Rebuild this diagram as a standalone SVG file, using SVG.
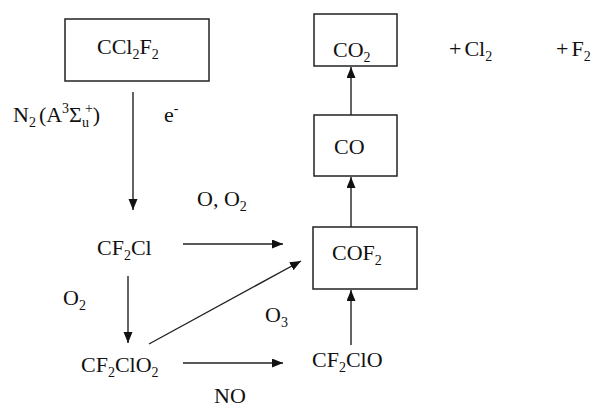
<svg xmlns="http://www.w3.org/2000/svg" width="603" height="408" viewBox="0 0 603 408">
<defs>
<style>
text{font-family:"Liberation Serif","Times New Roman",serif;font-size:22px;fill:#111}
.s{font-size:14px}
.box{fill:#fff;stroke:#222;stroke-width:1.5}
.ln{stroke:#222;stroke-width:1.4;fill:none;marker-end:url(#ah)}
</style>
<marker id="ah" markerUnits="userSpaceOnUse" markerWidth="12" markerHeight="10" refX="11" refY="4.5" orient="auto">
<path d="M0,0 L11,4.5 L0,9 z" fill="#111"/>
</marker>
</defs>
<rect width="603" height="408" fill="#fff"/>
<g id="connectors">
<path class="ln" d="M133,92 L133,210"/>
<path class="ln" d="M183,244 L283,244"/>
<path class="ln" d="M128,276 L128,343"/>
<path class="ln" d="M149,344 L301,261"/>
<path class="ln" d="M183,363 L283,363"/>
<path class="ln" d="M351,345 L351,290"/>
<path class="ln" d="M351,227 L351,177"/>
<path class="ln" d="M351,115 L351,67"/>
</g>
<g id="labels">
<text x="13" y="122">N<tspan class="s" dy="5">2</tspan><tspan dy="-5" dx="3">(A</tspan><tspan class="s" dy="-9">3</tspan><tspan dy="9">Σ</tspan><tspan class="s" dy="5">u</tspan><tspan class="s" dy="-14" dx="-4">+</tspan><tspan dy="9">)</tspan></text>
<text x="164" y="122">e<tspan class="s" dy="-9">-</tspan></text>
<text x="197" y="206">O, O<tspan class="s" dy="5">2</tspan></text>
<text x="63" y="305">O<tspan class="s" dy="5">2</tspan></text>
<text x="265" y="322">O<tspan class="s" dy="5">3</tspan></text>
<text x="214" y="403">NO</text>
<text x="449" y="56">+<tspan dx="3">Cl</tspan><tspan class="s" dy="5">2</tspan></text>
<text x="556" y="56">+<tspan dx="3">F</tspan><tspan class="s" dy="5">2</tspan></text>
</g>
<g id="CCl2F2">
<rect class="box" x="65" y="19" width="144" height="62"/>
<text x="97" y="54">CCl<tspan class="s" dy="5">2</tspan><tspan dy="-5">F</tspan><tspan class="s" dy="5">2</tspan></text>
</g>
<g id="CF2Cl">
<text x="97" y="255">CF<tspan class="s" dy="5">2</tspan><tspan dy="-5">Cl</tspan></text>
</g>
<g id="CF2ClO2">
<text x="81" y="372">CF<tspan class="s" dy="5">2</tspan><tspan dy="-5">ClO</tspan><tspan class="s" dy="5">2</tspan></text>
</g>
<g id="CF2ClO">
<text x="312" y="367">CF<tspan class="s" dy="5">2</tspan><tspan dy="-5">ClO</tspan></text>
</g>
<g id="COF2">
<rect class="box" x="313" y="227" width="104" height="62"/>
<text x="332" y="260">COF<tspan class="s" dy="5">2</tspan></text>
</g>
<g id="CO">
<rect class="box" x="314" y="115" width="83" height="61"/>
<text x="334" y="154">CO</text>
</g>
<g id="CO2">
<rect class="box" x="314" y="14" width="83" height="52"/>
<text x="333" y="57">CO<tspan class="s" dy="5">2</tspan></text>
</g>
</svg>
